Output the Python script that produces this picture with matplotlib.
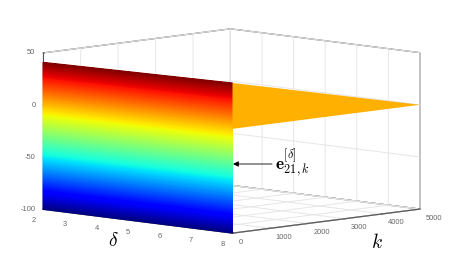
import numpy as np
import matplotlib
matplotlib.use('Agg')
import matplotlib.pyplot as plt

plt.rcParams['font.family'] = ['Liberation Sans', 'DejaVu Sans']
plt.rcParams['mathtext.fontset'] = 'cm'
plt.rcParams['grid.color'] = '#e6e6e6'
plt.rcParams['grid.linewidth'] = 0.7
plt.rcParams['axes3d.automargin'] = False
plt.rcParams['axes.unicode_minus'] = False

# Werte
delta = [2, 8]
k_ends = [0, 5000]
front_top = [41, 44]
front_bottom = [-100, -100]
wedge_top = [44, 0]
wedge_bottom = [0, 0]
delta_ticks = [2, 3, 4, 5, 6, 7, 8]
k_ticks = [0, 1000, 2000, 3000, 4000, 5000]
z_ticks = [-100, -50, 0, 50]
wedge_color = '#ffb000'

fig = plt.figure(figsize=(4.66, 2.6), dpi=100)
ax = fig.add_axes([-5 / 466, -4.5 / 260, 1, 1], projection='3d', proj_type='ortho')
ax.view_init(elev=7.3, azim=-45.3)
ax.set_box_aspect((1, 1, 0.592), zoom=1.525)

ax.set_xlim(delta[0], delta[-1])
ax.set_ylim(k_ends[0], k_ends[-1])
ax.set_zlim(-100, 50)

# Vordere Flaeche, fein unterteilt nur fuer den Farbverlauf
frac = np.linspace(0, 1, 220)
D, F = np.meshgrid(delta, frac)
Z = np.array(front_bottom) + F * (np.array(front_top) - np.array(front_bottom))
colors = plt.cm.jet(F[:-1, :-1])
front = ax.plot_surface(D, np.full_like(D, k_ends[0], dtype=float), Z, facecolors=colors,
                        rstride=1, cstride=1, shade=False, linewidth=0.7, antialiased=True)
front.set_clip_on(False)

# Orangefarbener Keil bei delta = 8
K, G = np.meshgrid(k_ends, [0, 1])
Zw = np.array([wedge_bottom, wedge_top], dtype=float)
wedge = ax.plot_surface(np.full_like(K, delta[-1], dtype=float), K, Zw, color=wedge_color,
                        shade=False, linewidth=0, antialiased=True)
wedge.set_clip_on(False)

ax.set_xticks(delta_ticks, labels=[str(v) for v in delta_ticks], ha='right')
ax.set_yticks(k_ticks, labels=[str(v) for v in k_ticks], ha='left')
ax.set_zticks(z_ticks, labels=[str(v) for v in z_ticks], ha='right', va='center')
ax.tick_params(labelsize=5.4, colors='#666666')
ax.tick_params(axis='x', pad=-4)
ax.tick_params(axis='y', pad=-5)
ax.tick_params(axis='z', pad=-6)
ax.zaxis.set_ticks_position('lower')

for axis in (ax.xaxis, ax.yaxis, ax.zaxis):
    axis.set_pane_color((1, 1, 1, 1))
    axis.pane.set_edgecolor('#666666')
    axis.pane.set_alpha(None)
    axis.pane.set_linewidth(0.9)
    axis.line.set_color('#555555')
    axis._axinfo['tick']['inward_factor'] = 0.0
    axis._axinfo['tick']['outward_factor'] = 0.08

fig.text(113 / 466, 1 - 241 / 260, r'$\delta$', fontsize=14, ha='center', va='center')
fig.text(377 / 466, 1 - 243 / 260, r'$k$', fontsize=14, ha='center', va='center')

ax.annotate('', xy=(233, 96), xytext=(272, 96), xycoords='figure pixels',
            textcoords='figure pixels',
            arrowprops=dict(arrowstyle='-|>', color='black', lw=0.6, mutation_scale=8,
                            shrinkA=0, shrinkB=0))
fig.text(275 / 466, 1 - 163 / 260, r'$\mathbf{e}^{[\delta]}_{21,k}$', fontsize=12.5,
         va='center', ha='left')

fig.savefig('out.png', dpi=100)
